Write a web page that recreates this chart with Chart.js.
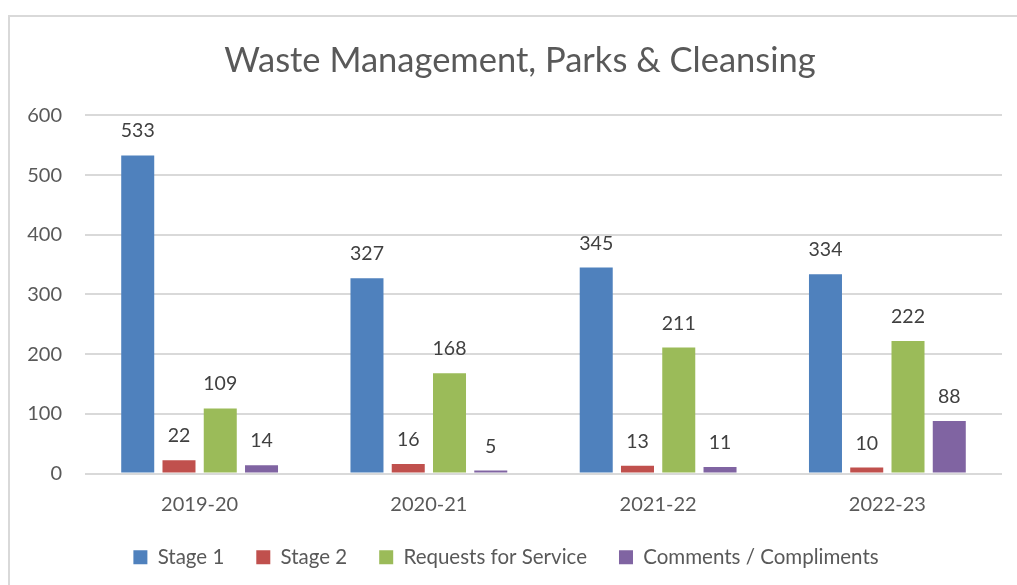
<!DOCTYPE html>
<html>
<head>
<meta charset="utf-8">
<script src="https://cdn.jsdelivr.net/npm/chart.js@4/dist/chart.umd.min.js"></script>
<style>
  html, body { margin: 0; padding: 0; background: #fff; overflow: hidden; }
  #wrap { position: relative; width: 1017px; height: 585px; }
  #frame {
    position: absolute; left: 8px; top: 15px; width: 1100px; height: 700px;
    border: 2px solid #d9d9d9; box-sizing: border-box;
  }
  #chart { position: absolute; left: 0; top: 0; }
</style>
</head>
<body>
<div id="wrap">
  <div id="frame"></div>
  <canvas id="chart" width="1017" height="585"></canvas>
</div>
<script>
// Chart data
const years = ['2019-20', '2020-21', '2021-22', '2022-23'];
const stage1 = [533, 327, 345, 334];
const stage2 = [22, 16, 13, 10];
const requestsForService = [109, 168, 211, 222];
const commentsCompliments = [14, 5, 11, 88];
const yTicks = [0, 100, 200, 300, 400, 500, 600];

const FONT = 'Lato, "Open Sans", sans-serif';
const TEXT_GREY = '#595959';

// draws the value above each bar (Excel-style data labels)
const barValueLabels = {
  id: 'barValueLabels',
  afterDatasetsDraw(chart) {
    const { ctx } = chart;
    ctx.save();
    ctx.font = `19.5px ${FONT}`;
    ctx.fillStyle = '#404040';
    ctx.textAlign = 'center';
    ctx.textBaseline = 'alphabetic';
    chart.data.datasets.forEach((ds, i) => {
      chart.getDatasetMeta(i).data.forEach((bar, j) => {
        ctx.fillText(String(ds.data[j]), bar.x, bar.y - 18);
      });
    });
    ctx.restore();
  }
};

// title and legend are centred on the outer frame, not on the plot
const centreOnFrame = {
  id: 'centreOnFrame',
  afterLayout(chart) {
    if (chart.titleBlock) chart.titleBlock.left += 38;
    if (chart.legend) chart.legend.left += 10;
  }
};

new Chart(document.getElementById('chart'), {
  type: 'bar',
  data: {
    labels: years,
    datasets: [
      { label: 'Stage 1', data: stage1, backgroundColor: '#4F81BD' },
      { label: 'Stage 2', data: stage2, backgroundColor: '#C0504D' },
      { label: 'Requests for Service', data: requestsForService, backgroundColor: '#9BBB59' },
      { label: 'Comments / Compliments', data: commentsCompliments, backgroundColor: '#8064A2' }
    ]
  },
  options: {
    responsive: false,
    animation: false,
    devicePixelRatio: 1,
    layout: { padding: { left: 0, right: 15, top: 15, bottom: 7.5 } },
    datasets: {
      bar: { categoryPercentage: 0.72, barPercentage: 0.8 }
    },
    plugins: {
      title: {
        display: true,
        text: 'Waste Management, Parks & Cleansing',
        color: TEXT_GREY,
        font: { family: FONT, size: 34.5, weight: 'normal' },
        padding: { top: 25, bottom: 34 }
      },
      legend: {
        position: 'bottom',
        labels: {
          color: TEXT_GREY,
          font: { family: FONT, size: 20.5 },
          boxWidth: 14,
          boxHeight: 14,
          padding: 32
        }
      },
      tooltip: { enabled: false }
    },
    scales: {
      x: {
        afterFit: (scale) => { scale.height = 41.5; },
        grid: { display: false, drawTicks: false },
        border: { display: false },
        ticks: { color: TEXT_GREY, font: { family: FONT, size: 20 }, padding: 19 }
      },
      y: {
        min: 0,
        max: 600,
        afterBuildTicks: (scale) => { scale.ticks = yTicks.map((v) => ({ value: v })); },
        afterFit: (scale) => { scale.width = 85; },
        grid: { color: '#d9d9d9', lineWidth: 2, drawTicks: false },
        border: { display: false },
        ticks: { color: TEXT_GREY, font: { family: FONT, size: 20 }, padding: 23 }
      }
    }
  },
  plugins: [barValueLabels, centreOnFrame]
});
</script>
</body>
</html>
